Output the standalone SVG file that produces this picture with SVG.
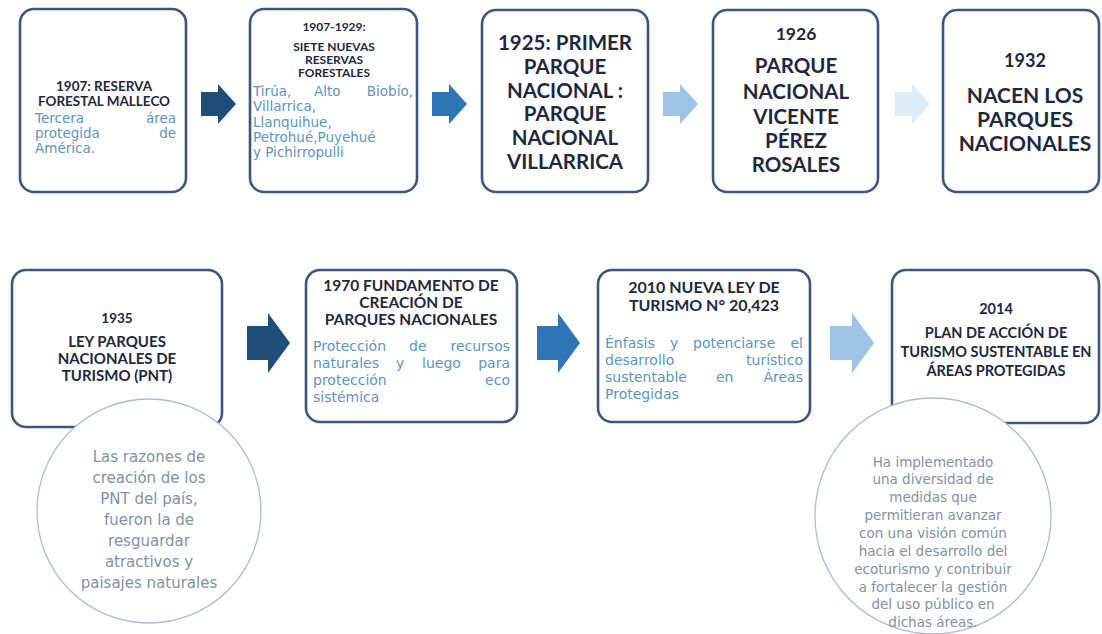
<svg xmlns="http://www.w3.org/2000/svg" width="1102" height="634" viewBox="0 0 1102 634">
<style>
.box{fill:#fff;stroke:#3a5782;stroke-width:2.6}
.t{font-family:Lato,"Open Sans",sans-serif;font-weight:bold;fill:#1c2940;text-anchor:middle}
.b{font-family:"DejaVu Sans",sans-serif;fill:#5b94c8}
.c{font-family:"DejaVu Sans",sans-serif;fill:#7d93a7;text-anchor:middle}
.circ{fill:#fff;stroke:#aebccb;stroke-width:1.3}
.e{text-anchor:end}
</style>
<rect width="1102" height="634" fill="#fff"/>
<g id="connectors">
<polygon points="201,92 218,92 218,84 236,104 218,124 218,116 201,116" fill="#1f4e79"/>
<polygon points="432,92 449,92 449,84 467,104 449,124 449,116 432,116" fill="#2e75b6"/>
<polygon points="663,92 680,92 680,84 698,104 680,124 680,116 663,116" fill="#9dc3e6"/>
<polygon points="895,92 912,92 912,84 930,104 912,124 912,116 895,116" fill="#deebf7"/>
<polygon points="247,326 268,326 268,313 290,343 268,373 268,360 247,360" fill="#1f4e79"/>
<polygon points="537,326 558,326 558,313 580,343 558,373 558,360 537,360" fill="#2e75b6"/>
<polygon points="830,326 852,326 852,313 874,343 852,373 852,360 830,360" fill="#9dc3e6"/>
</g>
<g id="n1907">
<rect class="box" x="20" y="9" width="166" height="183" rx="14"/>
<text class="t" font-size="13.5"><tspan x="104" y="91">1907: RESERVA</tspan><tspan x="104" y="106">FORESTAL MALLECO</tspan></text>
<text class="b" font-size="13.5"><tspan x="35" y="123">Tercera</tspan><tspan class="e" x="176" y="123">área</tspan><tspan x="35" y="138">protegida</tspan><tspan class="e" x="176" y="138">de</tspan><tspan x="35" y="153">América.</tspan></text>
</g>
<g id="n1907-1929">
<rect class="box" x="250" y="9" width="167" height="183" rx="14"/>
<text class="t" font-size="12"><tspan x="334" y="31">1907-1929:</tspan></text>
<text class="t" font-size="12"><tspan x="334" y="51">SIETE NUEVAS</tspan><tspan x="334" y="64">RESERVAS</tspan><tspan x="334" y="77">FORESTALES</tspan></text>
<text class="b" font-size="13.5"><tspan x="253" y="96">Tirúa,</tspan><tspan x="314" y="96">Alto</tspan><tspan class="e" x="413" y="96">Biobío,</tspan><tspan x="253" y="111">Villarrica,</tspan><tspan x="253" y="127">Llanquihue,</tspan><tspan x="253" y="142">Petrohué,Puyehué</tspan><tspan x="253" y="157">y Pichirropulli</tspan></text>
</g>
<g id="n1925">
<rect class="box" x="482" y="10" width="166" height="182" rx="14"/>
<text class="t" font-size="20.5"><tspan x="565" y="50">1925: PRIMER</tspan><tspan x="565" y="74">PARQUE</tspan><tspan x="565" y="98">NACIONAL :</tspan><tspan x="565" y="121">PARQUE</tspan><tspan x="565" y="145">NACIONAL</tspan><tspan x="565" y="169">VILLARRICA</tspan></text>
</g>
<g id="n1926">
<rect class="box" x="713" y="10" width="165" height="182" rx="14"/>
<text class="t" font-size="17.5"><tspan x="796" y="40">1926</tspan></text>
<text class="t" font-size="20.5"><tspan x="796" y="73">PARQUE</tspan><tspan x="796" y="99">NACIONAL</tspan><tspan x="796" y="124">VICENTE</tspan><tspan x="796" y="148">PÉREZ</tspan><tspan x="796" y="172">ROSALES</tspan></text>
</g>
<g id="n1932">
<rect class="box" x="943" y="10" width="156" height="182" rx="14"/>
<text class="t" font-size="18"><tspan x="1025" y="67">1932</tspan></text>
<text class="t" font-size="21"><tspan x="1025" y="103">NACEN LOS</tspan><tspan x="1025" y="127">PARQUES</tspan><tspan x="1025" y="151">NACIONALES</tspan></text>
</g>
<g id="n1935">
<rect class="box" x="12" y="270" width="210" height="157" rx="14"/>
<text class="t" font-size="13.5"><tspan x="117" y="323">1935</tspan></text>
<text class="t" font-size="15"><tspan x="117" y="347">LEY PARQUES</tspan><tspan x="117" y="364">NACIONALES DE</tspan><tspan x="117" y="381">TURISMO (PNT)</tspan></text>
</g>
<g id="c1935">
<circle class="circ" cx="149" cy="511" r="112"/>
<text class="c" font-size="15"><tspan x="149" y="462">Las razones de</tspan><tspan x="149" y="483">creación de los</tspan><tspan x="149" y="504">PNT del país,</tspan><tspan x="149" y="525">fueron la de</tspan><tspan x="149" y="546">resguardar</tspan><tspan x="149" y="567">atractivos y</tspan><tspan x="149" y="588">paisajes naturales</tspan></text>
</g>
<g id="n1970">
<rect class="box" x="306" y="270" width="211" height="152" rx="14"/>
<text class="t" font-size="15.5"><tspan x="411" y="291">1970  FUNDAMENTO DE</tspan><tspan x="411" y="308">CREACIÓN DE</tspan><tspan x="411" y="325">PARQUES NACIONALES</tspan></text>
<text class="b" font-size="14"><tspan x="313" y="351">Protección</tspan><tspan x="409" y="351">de</tspan><tspan class="e" x="510" y="351">recursos</tspan><tspan x="313" y="368">naturales</tspan><tspan x="396" y="368">y</tspan><tspan x="422" y="368">luego</tspan><tspan class="e" x="510" y="368">para</tspan><tspan x="313" y="385">protección</tspan><tspan class="e" x="510" y="385">eco</tspan><tspan x="313" y="402">sistémica</tspan></text>
</g>
<g id="n2010">
<rect class="box" x="598" y="270" width="212" height="152" rx="14"/>
<text class="t" font-size="16"><tspan x="704" y="293">2010  NUEVA LEY DE</tspan><tspan x="704" y="311">TURISMO N° 20,423</tspan></text>
<text class="b" font-size="14"><tspan x="605" y="348">Énfasis</tspan><tspan x="670" y="348">y</tspan><tspan x="693" y="348">potenciarse</tspan><tspan class="e" x="803" y="348">el</tspan><tspan x="605" y="365">desarrollo</tspan><tspan class="e" x="803" y="365">turístico</tspan><tspan x="605" y="382">sustentable</tspan><tspan x="716" y="382">en</tspan><tspan class="e" x="803" y="382">Áreas</tspan><tspan x="605" y="399">Protegidas</tspan></text>
</g>
<g id="n2014">
<rect class="box" x="892" y="270" width="207" height="153" rx="14"/>
<text class="t" font-size="14.5"><tspan x="996" y="314">2014</tspan></text>
<text class="t" font-size="14.5"><tspan x="996" y="338">PLAN DE ACCIÓN DE</tspan><tspan x="996" y="357">TURISMO SUSTENTABLE EN</tspan><tspan x="996" y="376">ÁREAS PROTEGIDAS</tspan></text>
</g>
<g id="c2014">
<circle class="circ" cx="933" cy="516" r="118"/>
<text class="c" font-size="13.5"><tspan x="933" y="467">Ha implementado</tspan><tspan x="933" y="484">una diversidad de</tspan><tspan x="933" y="502">medidas que</tspan><tspan x="933" y="520">permitieran avanzar</tspan><tspan x="933" y="538">con una visión común</tspan><tspan x="933" y="556">hacia el desarrollo del</tspan><tspan x="933" y="574">ecoturismo y contribuir</tspan><tspan x="933" y="592">a fortalecer la gestión</tspan><tspan x="933" y="609">del uso público en</tspan><tspan x="933" y="627">dichas áreas.</tspan></text>
</g>
</svg>
